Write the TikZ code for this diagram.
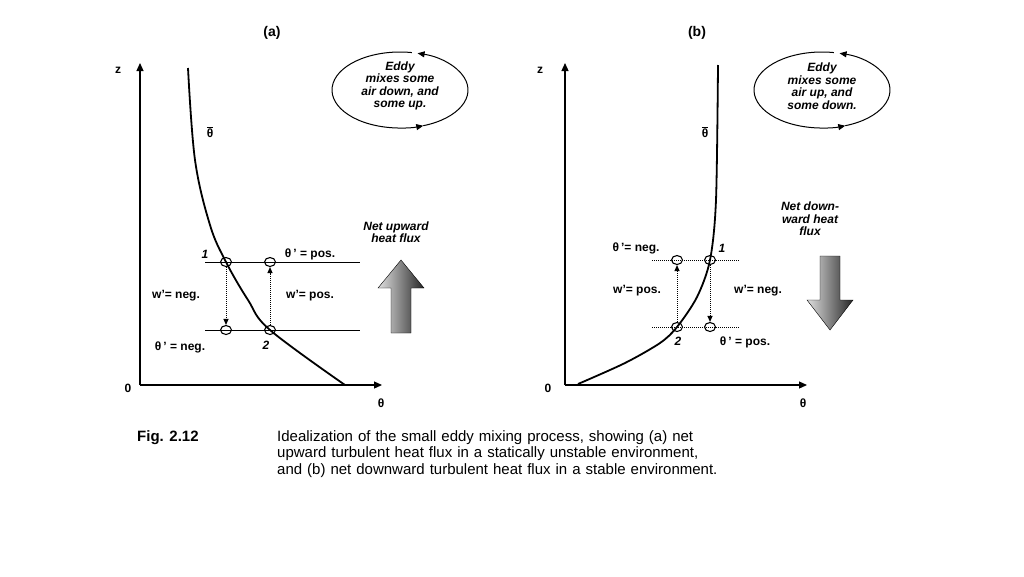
\documentclass[tikz,border=0pt]{standalone}
\usepackage{fontspec}
\setmainfont{Liberation Sans}
\usetikzlibrary{arrows.meta}
\tikzset{
  lbl/.style={font=\fontsize{12}{12.5}\selectfont\bfseries\itshape, align=center, inner sep=1pt},
  txt/.style={font=\fontsize{12}{13}\selectfont\bfseries, inner sep=1pt},
  axis/.style={line width=1.2pt, -{Triangle[length=8pt,width=7pt]}},
  prof/.style={line width=1.8pt},
  parcel/.style={ellipse, draw, line width=1.1pt, inner sep=0pt, minimum width=11pt, minimum height=9pt},
  move/.style={densely dotted, line width=1pt, -{Triangle[length=6pt,width=5pt]}},
  level/.style={line width=1pt},
  fluxarrow/.style={draw=black, left color=gray!25, right color=black!85}
}
\usetikzlibrary{shapes.geometric}
\begin{document}
\begin{tikzpicture}[x=1pt,y=-1pt]
  \useasboundingbox (0,0) rectangle (1024,576);
  \fill[white] (0,0) rectangle (1024,576);
  %% panel (a)
  \node[txt, font=\fontsize{14}{15}\selectfont\bfseries] (tita) at (272,33) {(a)};
  \coordinate (oa) at (140,385);
  \draw[axis] (oa) -- (140,63);
  \draw[axis] (oa) -- (382,385);
  \node[txt] (za) at (118,70) {z};
  \node[txt] (zeroa) at (128,388) {0};
  \node[txt] (tha) at (381,403) {θ};
  \draw[prof] plot[smooth, tension=0.6] coordinates {(188,68) (195,160) (210,225) (226,262) (248,300) (270,330) (345,385)};
  \node[txt] (thbara) at (210,132) {$\overline{\mbox{θ}}$};
  \draw[level] (205,262) -- (360,262);
  \draw[level] (205,330) -- (360,330);
  \node[parcel] (a1) at (226,262) {};
  \node[parcel] (a1b) at (270,262) {};
  \node[parcel] (a2b) at (226,330) {};
  \node[parcel] (a2) at (270,330) {};
  \draw[move] (a1) -- (a2b);
  \draw[move] (a2) -- (a1b);
  \node[lbl] (n1a) at (205,254) {1};
  \node[lbl] (n2a) at (266,345) {2};
  \node[txt] (tpa) at (310,254) {θ\,' = pos.};
  \node[txt] (wna) at (176,296) {w'= neg.};
  \node[txt] (wpa) at (310,296) {w'= pos.};
  \node[txt] (tna) at (180,347) {θ\,' = neg.};
  \node[lbl] (neta) at (396,232) {Net upward\\heat flux};
  \path[fluxarrow] (391,333) -- (391,288) -- (378,288) -- (401,260) -- (424,288) -- (411,288) -- (411,333) -- cycle;
  \node[lbl] (eddya) at (400,86) {Eddy\\mixes some\\air down, and\\some up.};
  \draw[line width=1pt, -{Triangle[length=7pt,width=6pt]}] (400,90) ++(-80:68 and 38) arc[start angle=-80, end angle=-290, x radius=68, y radius=38];
  \draw[line width=1pt, -{Triangle[length=7pt,width=6pt]}] (400,90) ++(-290:68 and 38) arc[start angle=-290, end angle=-435, x radius=68, y radius=38];
  %% panel (b)
  \node[txt, font=\fontsize{14}{15}\selectfont\bfseries] (titb) at (697,33) {(b)};
  \coordinate (ob) at (565,385);
  \draw[axis] (ob) -- (565,63);
  \draw[axis] (ob) -- (807,385);
  \node[txt] (zb) at (540,70) {z};
  \node[txt] (zerob) at (548,388) {0};
  \node[txt] (thb) at (803,403) {θ};
  \draw[prof] plot[smooth, tension=0.5] coordinates {(578,384) (625,363) (660,343) (677,327) (697,297) (710,260) (716,200) (718,65)};
  \node[txt] (thbarb) at (705,132) {$\overline{\mbox{θ}}$};
  \draw[level, densely dotted] (652,260) -- (740,260);
  \draw[level, densely dotted] (652,327) -- (740,327);
  \node[parcel] (b1b) at (677,260) {};
  \node[parcel] (b1) at (710,260) {};
  \node[parcel] (b2) at (677,327) {};
  \node[parcel] (b2b) at (710,327) {};
  \draw[move] (b2) -- (b1b);
  \draw[move] (b1) -- (b2b);
  \node[lbl] (n1b) at (722,248) {1};
  \node[lbl] (n2b) at (678,341) {2};
  \node[txt] (tnb) at (636,248) {θ\,'= neg.};
  \node[txt] (wpb) at (637,291) {w'= pos.};
  \node[txt] (wnb) at (758,291) {w'= neg.};
  \node[txt] (tpb) at (745,342) {θ\,' = pos.};
  \node[lbl] (netb) at (810,219) {Net down-\\ward heat\\flux};
  \path[fluxarrow] (820,256) -- (820,300) -- (807,300) -- (830,330) -- (853,300) -- (840,300) -- (840,256) -- cycle;
  \node[lbl] (eddyb) at (822,86) {Eddy\\mixes some\\air up, and\\some down.};
  \draw[line width=1pt, -{Triangle[length=7pt,width=6pt]}] (822,90) ++(-80:68 and 38) arc[start angle=-80, end angle=-290, x radius=68, y radius=38];
  \draw[line width=1pt, -{Triangle[length=7pt,width=6pt]}] (822,90) ++(-290:68 and 38) arc[start angle=-290, end angle=-435, x radius=68, y radius=38];
  %% caption
  \node[anchor=west, font=\fontsize{15}{16}\selectfont\bfseries, inner sep=0pt] (fig) at (137,438) {Fig. 2.12};
  \node[anchor=north west, align=left, inner sep=0pt, font=\fontsize{15}{16.5}\selectfont, text width=640pt] (cap) at (277,430) {Idealization of the small eddy mixing process, showing (a) net\\upward turbulent heat flux in a statically unstable environment,\\and (b) net downward turbulent heat flux in a stable environment.};
\end{tikzpicture}
\end{document}
